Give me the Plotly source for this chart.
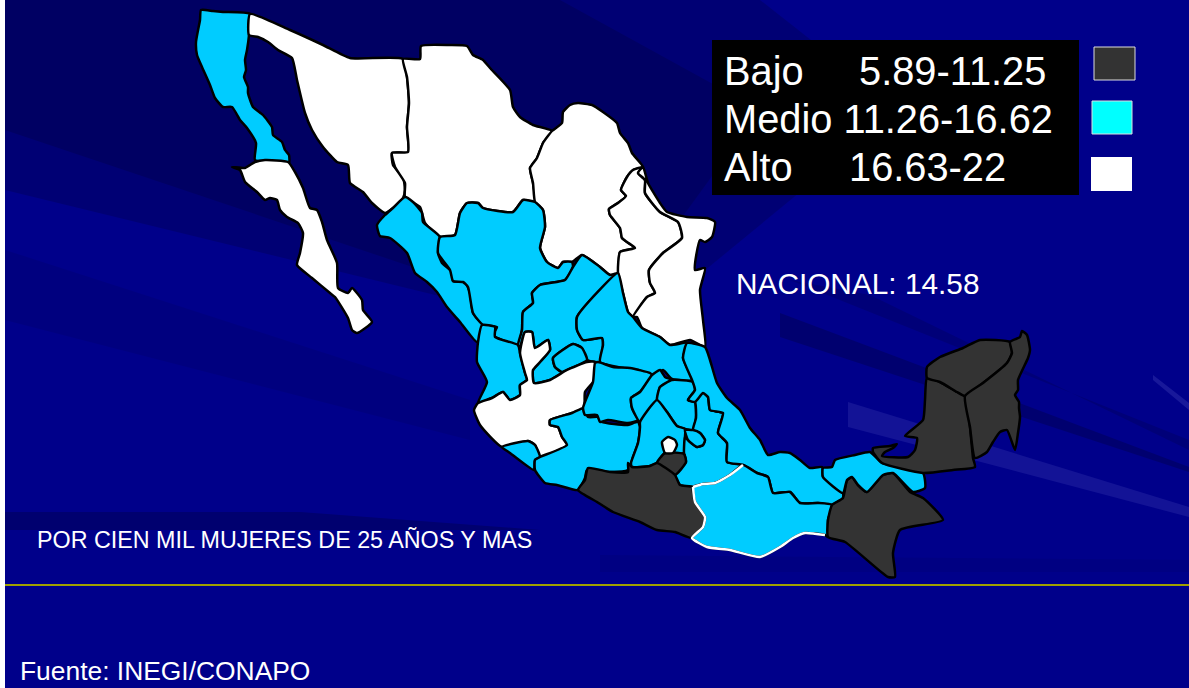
import plotly.graph_objects as go

# colores por grupo
BAJO = "#333333"
MEDIO = "#00CCFF"
ALTO = "#FFFFFF"

# contornos de los estados (x, y en pixeles)
baja_california = [(201,10),(213,11),(223,12),(250,14),(249,35),(247,50),(245,60),(246,70),(244,77),(248,87),(248,93),(253,107),(263,115),(272,127),(273,135),(282,142),(285,150),(289,155),(289,163),(273,161),(255,160),(256,143),(247,128),(240,120),(232,107),(223,107),(215,98),(210,85),(202,67),(197,55),(196,42),(200,20)]
baja_california_sur = [(232,167),(240,170),(245,182),(257,192),(265,200),(270,198),(277,200),(280,210),(287,217),(298,223),(303,233),(300,253),(297,265),(312,278),(330,293),(335,297),(348,318),(352,330),(357,333),(372,322),(363,310),(362,300),(352,288),(348,293),(338,288),(337,263),(327,240),(322,222),(317,210),(310,208),(303,188),(295,172),(288,162),(265,160),(255,162),(245,168)]
sonora = [(250,14),(290,30),(323,45),(350,58),(403,59),(407,77),(409,103),(407,127),(408,152),(392,153),(393,165),(403,177),(405,190),(403,198),(393,208),(385,213),(372,203),(363,192),(350,183),(348,165),(337,162),(323,147),(312,130),(305,113),(297,80),(292,58),(278,50),(268,42),(258,37),(249,35)]
chihuahua = [(403,59),(420,59),(421,46),(450,45),(467,46),(473,55),(483,60),(490,68),(510,90),(513,107),(520,117),(533,125),(552,131),(543,143),(537,158),(530,168),(533,183),(535,202),(523,200),(513,212),(483,208),(478,203),(467,203),(460,213),(455,235),(440,237),(425,223),(420,207),(405,197),(405,183),(395,167),(392,153),(408,152),(407,127),(409,103),(407,77)]
coahuila = [(552,131),(562,123),(563,112),(570,105),(578,103),(592,105),(603,112),(617,123),(620,133),(628,143),(632,153),(643,167),(633,170),(627,177),(621,190),(626,196),(618,203),(609,209),(610,215),(620,228),(622,238),(627,242),(635,248),(620,252),(618,273),(610,275),(600,267),(582,255),(572,262),(563,262),(558,268),(547,262),(540,248),(545,227),(543,210),(535,202),(533,183),(530,168),(537,158),(543,143)]
nuevo_leon = [(643,167),(633,170),(627,177),(621,190),(626,196),(618,203),(609,209),(610,215),(620,228),(622,238),(627,242),(635,248),(620,252),(618,273),(623,293),(628,312),(633,317),(647,297),(655,293),(650,283),(649,270),(663,253),(682,238),(678,222),(660,212),(645,193),(645,180),(638,173)]
tamaulipas = [(643,167),(648,183),(660,203),(667,212),(687,217),(707,218),(715,222),(712,237),(705,242),(700,240),(695,270),(705,268),(700,290),(703,320),(705,347),(690,340),(670,345),(660,337),(642,328),(637,317),(633,317),(647,297),(655,293),(650,283),(649,270),(663,253),(682,238),(678,222),(660,212),(645,193),(645,180),(638,173)]
sinaloa = [(405,197),(413,202),(422,213),(423,222),(440,237),(438,253),(442,263),(452,272),(453,281),(465,282),(470,293),(473,313),(483,325),(485,330),(477,342),(460,322),(447,307),(437,292),(427,282),(415,273),(407,253),(390,238),(380,236),(377,225),(385,215),(393,208)]
durango = [(440,237),(455,235),(460,213),(467,203),(478,203),(483,208),(513,212),(523,200),(535,202),(543,210),(545,227),(540,248),(547,262),(558,268),(563,262),(572,262),(573,267),(565,280),(540,285),(532,293),(533,303),(523,312),(522,330),(518,345),(493,335),(497,327),(483,325),(473,313),(468,287),(463,282),(453,281),(450,270),(438,253)]
nayarit = [(482,325),(495,327),(495,337),(518,345),(520,353),(525,373),(527,380),(520,385),(520,395),(510,400),(503,392),(492,398),(478,403),(487,382),(477,362),(478,342)]
zacatecas = [(573,267),(582,255),(600,267),(610,275),(618,273),(593,297),(577,317),(577,330),(583,340),(602,338),(603,345),(600,362),(587,360),(582,348),(573,344),(553,358),(555,367),(562,372),(567,370),(550,380),(534,383),(533,370),(540,362),(550,350),(548,340),(535,348),(532,332),(525,332),(520,347),(518,345),(522,330),(523,312),(533,303),(532,293),(540,285),(565,280)]
aguascalientes = [(553,358),(573,344),(582,348),(587,360),(567,370),(562,372),(555,367)]
jalisco = [(525,332),(532,332),(535,348),(548,340),(550,350),(540,362),(533,370),(534,383),(550,380),(567,370),(587,362),(595,362),(596,378),(585,392),(584,408),(572,413),(550,420),(550,425),(558,427),(562,437),(567,445),(540,457),(535,445),(528,441),(502,447),(480,425),(474,410),(478,403),(492,398),(503,392),(510,400),(520,395),(520,385),(527,380),(525,373),(520,353)]
colima = [(502,447),(528,441),(535,445),(540,457),(535,460),(534,470),(510,453)]
michoacan = [(540,457),(567,445),(562,437),(558,427),(550,425),(550,420),(572,413),(584,408),(588,417),(598,417),(602,422),(627,425),(638,422),(640,427),(638,443),(633,457),(628,470),(610,472),(587,470),(585,478),(578,490),(557,485),(545,483),(535,470),(535,460)]
san_luis_potosi = [(618,273),(623,293),(628,312),(633,317),(642,328),(660,337),(670,345),(687,343),(683,358),(692,380),(672,379),(663,370),(653,375),(638,370),(623,368),(600,362),(603,345),(602,338),(583,340),(577,330),(577,317),(593,297)]
guanajuato = [(598,362),(613,367),(630,368),(650,373),(652,375),(640,392),(631,398),(632,408),(638,420),(628,423),(608,420),(600,422),(597,415),(585,415),(583,408),(593,382),(595,363)]
queretaro = [(652,375),(660,370),(665,377),(672,380),(660,387),(657,400),(640,422),(632,408),(631,398),(640,392)]
hidalgo = [(672,380),(693,382),(695,390),(688,400),(695,402),(696,418),(693,430),(685,429),(677,426),(667,412),(657,400),(660,387)]
mexico = [(657,400),(667,412),(677,426),(685,429),(685,437),(684,453),(665,453),(657,463),(650,466),(632,467),(631,463),(638,443),(640,427),(640,422)]
morelos = [(665,453),(684,454),(686,462),(675,475),(657,463)]
distrito_federal = [(662,442),(668,437),(675,440),(677,445),(673,453),(665,453)]
tlaxcala = [(685,430),(693,430),(700,433),(705,440),(703,445),(697,447),(688,440)]
puebla = [(688,400),(695,402),(696,418),(693,430),(700,433),(705,440),(703,445),(697,447),(688,440),(685,437),(684,453),(686,462),(675,475),(680,485),(693,487),(703,484),(715,483),(730,475),(743,465),(727,462),(727,443),(718,433),(723,413),(710,410),(708,397),(703,393)]
veracruz = [(687,343),(705,347),(710,360),(717,383),(727,398),(740,410),(750,428),(760,440),(768,455),(780,452),(790,453),(800,460),(810,468),(822,467),(823,477),(843,493),(843,498),(832,505),(818,503),(800,503),(790,492),(773,493),(768,477),(757,473),(743,465),(727,462),(727,443),(718,433),(723,413),(710,410),(708,397),(703,393),(695,402),(688,400),(695,390),(692,380),(683,358)]
guerrero = [(588,468),(610,472),(628,472),(628,463),(632,467),(650,466),(657,463),(675,475),(680,485),(693,487),(695,502),(705,517),(703,527),(692,538),(675,532),(657,530),(640,522),(613,512),(597,502),(578,490),(585,480)]
oaxaca = [(693,487),(703,484),(715,483),(730,475),(743,465),(757,473),(768,477),(773,493),(790,492),(800,503),(818,503),(832,505),(828,520),(828,537),(825,535),(805,533),(793,538),(780,547),(760,557),(730,550),(707,547),(692,538),(703,527),(705,517),(695,502)]
chiapas = [(832,505),(843,498),(847,480),(852,477),(858,485),(867,492),(883,475),(893,473),(910,492),(923,498),(943,520),(900,530),(893,553),(895,577),(888,577),(845,542),(828,537),(828,520)]
tabasco = [(823,468),(832,467),(835,460),(855,455),(870,452),(882,463),(923,473),(925,488),(913,492),(893,473),(883,475),(867,492),(858,485),(852,477),(847,480),(843,493),(823,477)]
campeche = [(927,378),(940,382),(957,392),(965,396),(970,427),(973,458),(975,467),(953,470),(923,473),(882,463),(873,452),(873,448),(890,446),(897,444),(893,448),(885,452),(882,456),(908,457),(915,450),(917,438),(905,436),(923,420),(925,400)]
yucatan = [(927,367),(940,357),(963,348),(980,340),(1010,342),(1012,353),(1007,363),(983,383),(965,396),(957,392),(940,382),(927,378)]
quintana_roo = [(1010,342),(1020,337),(1022,331),(1027,335),(1030,350),(1028,358),(1018,380),(1018,390),(1015,395),(1019,402),(1019,408),(1020,417),(1018,433),(1015,450),(1007,430),(1000,432),(993,442),(987,452),(975,458),(970,427),(965,396),(983,383),(1007,363),(1012,353)]

estados = [
    (baja_california, MEDIO), (baja_california_sur, ALTO), (sonora, ALTO), (chihuahua, ALTO),
    (coahuila, ALTO), (nuevo_leon, ALTO), (tamaulipas, ALTO), (sinaloa, MEDIO), (durango, MEDIO),
    (nayarit, MEDIO), (zacatecas, MEDIO), (aguascalientes, MEDIO), (jalisco, ALTO), (colima, MEDIO),
    (michoacan, MEDIO), (san_luis_potosi, MEDIO), (guanajuato, MEDIO), (queretaro, MEDIO),
    (hidalgo, MEDIO), (mexico, MEDIO), (puebla, MEDIO), (veracruz, MEDIO), (tlaxcala, MEDIO),
    (morelos, BAJO), (distrito_federal, ALTO), (guerrero, BAJO), (oaxaca, MEDIO), (chiapas, BAJO),
    (tabasco, MEDIO), (campeche, BAJO), (yucatan, BAJO), (quintana_roo, BAJO),
]

# rayos del fondo: (color, puntos)
rayos = [
    ("rgba(0,0,60,0.28)", [(5,0),(760,0),(900,110),(620,340),(5,190)]),
    ("rgba(0,0,60,0.3)", [(5,0),(560,0),(760,110),(600,330),(5,130)]),
    ("rgba(0,0,70,0.15)", [(5,250),(470,400),(470,440),(5,320)]),
    ("rgba(0,0,70,0.4)", [(5,512),(300,512),(540,530),(5,530)]),
    ("rgba(0,0,50,0.3)", [(780,313),(1189,467),(1189,472),(780,337)]),
    ("rgba(0,0,50,0.2)", [(790,280),(1189,440),(1189,450),(870,295)]),
    ("rgba(120,120,220,0.16)", [(848,402),(1189,507),(1189,517),(848,427)]),
    ("rgba(120,120,220,0.2)", [(1153,375),(1189,403),(1189,410),(1153,380)]),
    ("rgba(0,0,70,0.12)", [(600,555),(1189,560),(1189,572),(600,572)]),
]

fig = go.Figure()

for puntos, color in estados:
    fig.add_trace(go.Scatter(
        x=[p[0] for p in puntos] + [puntos[0][0]],
        y=[p[1] for p in puntos] + [puntos[0][1]],
        mode="lines", fill="toself", fillcolor=color,
        line=dict(color="black", width=2.5, shape="spline", smoothing=0.5),
        hoverinfo="skip", showlegend=False))

# Oaxaca lleva contorno blanco en el norte, oeste y sur
borde_oaxaca = oaxaca[:5], oaxaca[14:] + oaxaca[:1]
for tramo in borde_oaxaca:
    fig.add_trace(go.Scatter(
        x=[p[0] for p in tramo], y=[p[1] for p in tramo],
        mode="lines", line=dict(color="white", width=2.5, shape="spline", smoothing=0.5),
        hoverinfo="skip", showlegend=False))

# fondo
shapes = [dict(type="rect", x0=5, x1=1189, y0=0, y1=688, layer="below",
               fillcolor="#00008A", line_width=0)]
for color, puntos in rayos:
    path = "M " + " L ".join(f"{x},{y}" for x, y in puntos) + " Z"
    shapes.append(dict(type="path", path=path, layer="below", fillcolor=color, line_width=0))

# linea amarilla
shapes.append(dict(type="line", x0=5, x1=1189, y0=585, y1=585, line=dict(color="#A0A000", width=2), layer="below"))

# leyenda
shapes.append(dict(type="rect", x0=712, x1=1079, y0=40, y1=195, fillcolor="black", line_width=0))
shapes.append(dict(type="rect", x0=1094, x1=1135, y0=47, y1=80, fillcolor="#333333", line=dict(color="#DDDDDD", width=1)))
shapes.append(dict(type="rect", x0=1092, x1=1132, y0=101, y1=134, fillcolor="#00FFFF", line=dict(color="#DDDDDD", width=1)))
shapes.append(dict(type="rect", x0=1091, x1=1132, y0=157, y1=191, fillcolor="#FFFFFF", line_width=0))

textos = [
    ("Bajo", 724, 71, 39.8), ("5.89-11.25", 859, 71, 39.8),
    ("Medio 11.26-16.62", 724, 119, 39.8),
    ("Alto", 724, 167, 39.8), ("16.63-22", 849, 167, 39.8),
    ("NACIONAL: 14.58", 736, 283, 29.8),
    ("POR CIEN MIL MUJERES DE 25 AÑOS Y MAS", 37, 540, 23.3),
    ("Fuente: INEGI/CONAPO", 20, 671, 26.4),
]
annotations = [dict(text=t, x=x, y=y, xref="x", yref="y", xanchor="left", yanchor="middle",
                    showarrow=False, xshift=-2, font=dict(family="Liberation Sans", size=s, color="white"))
               for t, x, y, s in textos]

fig.update_layout(
    width=1189, height=688,
    margin=dict(l=0, r=0, t=0, b=0),
    paper_bgcolor="white", plot_bgcolor="rgba(0,0,0,0)",
    xaxis=dict(range=[0, 1189], visible=False, fixedrange=True),
    yaxis=dict(range=[688, 0], visible=False, fixedrange=True),
    shapes=shapes, annotations=annotations,
)

# sin margen del body, la figura ocupa toda la ventana
fig.write_html("out.html", config=dict(displayModeBar=False),
               post_script="document.body.style.margin='0';document.documentElement.style.overflow='hidden';")
